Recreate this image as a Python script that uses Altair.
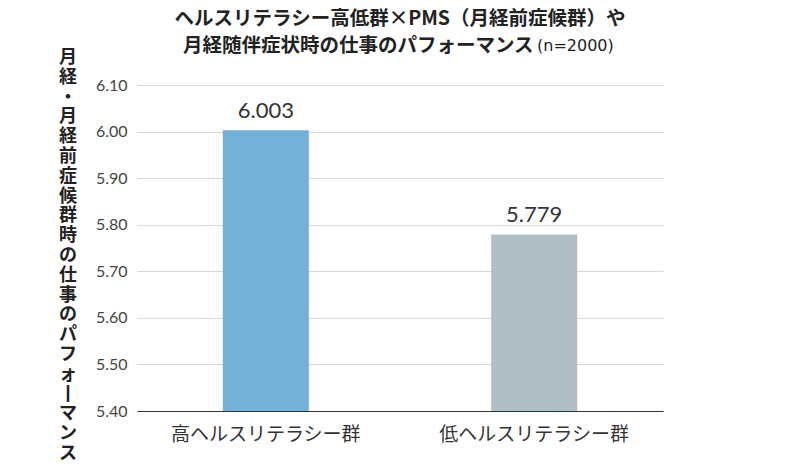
import altair as alt
import pandas as pd

GROUPS = ["高ヘルスリテラシー群", "低ヘルスリテラシー群"]
SCORES = [6.003, 5.779]
BAR_COLORS = ["#74b1d8", "#b0bec6"]
Y_TICKS = [5.4, 5.5, 5.6, 5.7, 5.8, 5.9, 6.0, 6.1]

TITLE_LINE1 = "ヘルスリテラシー高低群×PMS（月経前症候群）や"
TITLE_LINE2 = "月経随伴症状時の仕事のパフォーマンス"
TITLE_N = "(n=2000)"
Y_TITLE = "月経・月経前症候群時の仕事のパフォーマンス"

JP_FONT = "Noto Sans CJK JP"
NUM_FONT = "Lato"

PLOT_W = 526
PLOT_H = 326

df = pd.DataFrame({
    "group": GROUPS,
    "score": SCORES,
    "label": [f"{v:.3f}" for v in SCORES],
})

base = alt.Chart(df).encode(
    x=alt.X(
        "group:N",
        sort=GROUPS,
        title=None,
        scale=alt.Scale(paddingInner=0.04, paddingOuter=0),
        axis=alt.Axis(
            labelAngle=0,
            labelFont=JP_FONT,
            labelFontSize=19,
            labelColor="#333",
            labelPadding=14,
            labelLimit=0,
            ticks=False,
            grid=False,
            domainColor="#333",
        ),
    )
)

bars = base.mark_bar(size=86).encode(
    y=alt.Y(
        "score:Q",
        title=None,
        scale=alt.Scale(domain=[5.4, 6.1], zero=False, nice=False),
        axis=alt.Axis(
            values=Y_TICKS,
            format=".2f",
            labelFont=NUM_FONT,
            labelFontSize=16,
            labelColor="#444",
            labelPadding=10,
            ticks=False,
            domain=False,
            gridColor="#d6d6d6",
        ),
    ),
    y2=alt.datum(5.4),
    color=alt.Color("group:N", scale=alt.Scale(domain=GROUPS, range=BAR_COLORS), legend=None),
)

labels = base.mark_text(
    font=NUM_FONT, fontSize=22, color="#333", baseline="alphabetic", dy=-12
).encode(y="score:Q", text="label:N")

one_row = alt.Data(values=[{"k": 0}])

title1 = alt.Chart(one_row).mark_text(
    font=JP_FONT, fontSize=19.5, fontWeight="bold", color="#222", align="center", baseline="middle"
).encode(x=alt.value(263), y=alt.value(-66), text=alt.value(TITLE_LINE1))

title2 = alt.Chart(one_row).mark_text(
    font=JP_FONT, fontSize=19.5, fontWeight="bold", color="#222", align="left", baseline="middle"
).encode(x=alt.value(46), y=alt.value(-39), text=alt.value(TITLE_LINE2))

title_n = alt.Chart(one_row).mark_text(
    font="DejaVu Sans", fontSize=16, color="#222", align="left", baseline="middle"
).encode(x=alt.value(400), y=alt.value(-39), text=alt.value(TITLE_N))

# vertical, upright y-axis title: one character per line, long vowel mark turned upright
y_title = alt.Chart(one_row).mark_text(
    font=JP_FONT, fontSize=18, fontWeight="bold", color="#222",
    align="center", baseline="top", lineHeight=19.8,
).encode(x=alt.value(-69), y=alt.value(-36), text=alt.value(list(Y_TITLE.replace("ー", "丨"))))

chart = (
    alt.layer(bars, labels, title1, title2, title_n, y_title)
    .properties(
        width=PLOT_W,
        height=PLOT_H,
        autosize=alt.AutoSizeParams(type="none"),
        padding={"left": 129, "top": 77, "right": 129, "bottom": 57},
    )
    .configure_view(stroke=None)
)

chart.save("out.html", embed_options={"renderer": "svg", "actions": False})
